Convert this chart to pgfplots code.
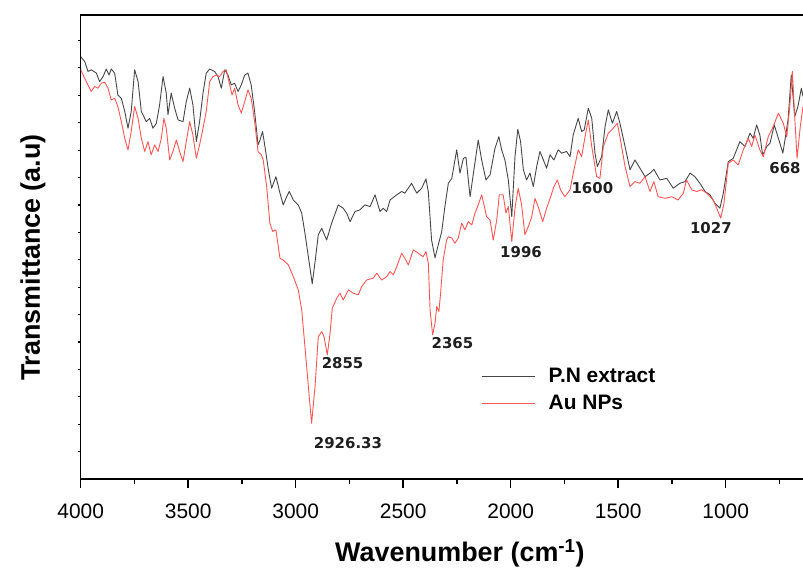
\documentclass[border=0pt]{standalone}
\usepackage{fontspec}
\setmainfont{Liberation Sans}
\newfontfamily\annfont{DejaVu Sans}
\usepackage{pgfplots}
\pgfplotsset{compat=1.18}
\definecolor{pngray}{RGB}{70,70,70}
\definecolor{aured}{RGB}{255,85,85}
\begin{document}
\begin{tikzpicture}
\useasboundingbox (0,0) rectangle (803bp,570bp);
\clip (0,0) rectangle (803bp,570bp);
\begin{axis}[
  at={(80.7bp,91bp)}, anchor=south west,
  scale only axis, width=774bp, height=464bp,
  xmin=400, xmax=4000, x dir=reverse,
  ymin=0, ymax=16.93,
  axis line style={line width=1.6bp, black},
  xtick={1000,1500,...,4000},
  minor xtick={750,1250,...,3750},
  ytick={1,...,16},
  yticklabels={},
  xtick pos=bottom, ytick pos=left,
  tick align=outside,
  major tick length=9bp, minor tick length=5bp,
  xtick style={line width=1.6bp, black},
  minor x tick style={line width=1.6bp, black},
  ytick style={/pgfplots/major tick length=3bp, line width=1.2bp, black},
  scaled x ticks=false,
  x tick label style={font=\fontsize{21}{21}\selectfont, yshift=-12bp, /pgf/number format/assume math mode=true, /pgf/number format/1000 sep={}},
  xlabel={Wavenumber (cm\textsuperscript{-1})},
  ylabel={Transmittance (a.u)},
  every axis x label/.style={at={(rel axis cs:0.49,0)}, yshift=-74bp, anchor=center, font=\bfseries\fontsize{27}{27}\selectfont},
  every axis y label/.style={at={(rel axis cs:0,0.477)}, xshift=-47.7bp, rotate=90, anchor=center, font=\bfseries\fontsize{27}{27}\selectfont},
  legend style={at={(rel axis cs:0.518,0.239)}, anchor=north west, draw=none, fill=none, inner sep=0pt, nodes={inner sep=0pt}, font=\bfseries\fontsize{21}{21}\selectfont, cells={anchor=west}, row sep=11bp, /tikz/every odd column/.append style={column sep=13bp}},
  legend image code/.code={\draw[#1] (0bp,0bp) -- (53bp,0bp);},
]
\addplot[pngray, line width=0.9bp, line join=round] coordinates {
(4000,15.41)(3981,15.23)(3966,14.87)(3951,14.93)(3927,14.81)(3912,14.50)(3896,14.68)(3881,14.96)(3868,14.74)(3858,14.96)(3842,14.81)(3827,14.01)(3811,13.89)(3795,13.41)(3780,12.80)(3765,13.41)(3749,14.93)(3733,14.50)(3718,13.41)(3695,13.04)(3679,13.16)(3664,12.80)(3648,12.98)(3633,13.65)(3617,14.68)(3602,14.08)(3594,13.29)(3579,14.08)(3563,13.53)(3547,13.10)(3524,13.04)(3509,13.77)(3493,14.26)(3478,13.65)(3462,12.31)(3447,13.04)(3431,14.08)(3416,14.81)(3400,14.96)(3377,14.87)(3361,14.68)(3346,14.26)(3330,14.93)(3315,14.74)(3300,14.38)(3284,14.44)(3268,14.14)(3253,14.38)(3237,14.74)(3222,14.81)(3207,14.38)(3191,13.41)(3175,12.19)(3166,12.37)(3154,12.68)(3143,12.13)(3127,11.28)(3112,10.61)(3092,11.03)(3073,10.43)(3058,10.00)(3042,10.30)(3030,10.49)(3011,10.18)(2988,10.00)(2972,9.70)(2957,8.97)(2941,8.11)(2923,7.12)(2907,8.11)(2895,8.91)(2879,9.15)(2856,8.72)(2833,9.33)(2802,10.00)(2779,9.88)(2763,9.70)(2747,9.39)(2724,9.76)(2701,9.82)(2678,10.00)(2654,9.94)(2631,10.37)(2608,9.76)(2593,9.88)(2577,9.76)(2561,10.18)(2530,10.37)(2507,10.49)(2492,10.43)(2461,10.79)(2437,10.43)(2414,10.61)(2394,10.95)(2383,10.47)(2368,8.72)(2352,8.07)(2337,8.54)(2321,9.02)(2306,9.94)(2290,10.79)(2274,10.97)(2251,12.01)(2236,11.16)(2220,11.70)(2208,11.74)(2189,10.30)(2171,11.28)(2151,12.37)(2135,11.64)(2115,10.91)(2096,11.10)(2073,12.07)(2055,12.49)(2042,12.01)(2027,11.64)(2011,10.91)(1995,9.57)(1980,11.76)(1967,12.76)(1954,12.31)(1941,11.28)(1926,10.91)(1910,11.16)(1895,10.67)(1879,11.40)(1864,11.95)(1848,11.64)(1833,11.34)(1817,11.83)(1799,11.64)(1779,12.01)(1763,11.89)(1740,11.95)(1724,11.76)(1709,12.56)(1686,13.16)(1670,12.68)(1658,12.74)(1639,13.53)(1623,13.16)(1608,11.89)(1597,11.40)(1577,11.76)(1561,12.86)(1546,13.47)(1527,12.98)(1507,13.41)(1492,12.98)(1468,12.13)(1445,11.28)(1422,11.64)(1399,11.34)(1375,11.03)(1352,11.16)(1334,11.30)(1306,10.91)(1274,10.97)(1244,10.61)(1213,10.79)(1189,10.85)(1166,11.16)(1143,11.03)(1120,10.79)(1096,10.49)(1073,10.37)(1050,10.06)(1027,9.88)(1011,10.43)(988,11.58)(965,11.70)(934,12.31)(910,12.13)(887,12.62)(872,12.43)(856,12.92)(841,12.55)(828,11.82)(809,12.13)(794,12.25)(774,12.92)(755,12.43)(734,11.89)(710,13.10)(695,14.74)(679,13.22)(664,13.59)(648,14.26)(640,13.95)
};
\addlegendentry{P.N extract}
\addplot[aured, line width=0.9bp, line join=round] coordinates {
(4000,14.93)(3974,14.50)(3951,14.14)(3935,14.32)(3920,14.26)(3904,14.44)(3888,14.48)(3873,14.26)(3858,13.83)(3842,13.89)(3827,13.59)(3811,13.04)(3795,12.43)(3780,12.01)(3765,12.68)(3749,13.59)(3733,13.16)(3718,12.43)(3702,11.95)(3687,12.31)(3672,11.83)(3656,12.19)(3640,11.95)(3625,12.43)(3613,13.16)(3602,12.80)(3586,11.64)(3571,11.95)(3555,12.37)(3540,11.95)(3524,11.58)(3509,12.31)(3493,13.04)(3478,12.55)(3462,11.70)(3447,12.19)(3431,12.80)(3416,13.41)(3400,14.50)(3385,14.68)(3369,14.74)(3354,14.68)(3338,14.87)(3323,14.93)(3307,14.38)(3296,14.01)(3284,14.26)(3268,13.65)(3253,13.35)(3237,13.77)(3222,14.20)(3207,13.89)(3191,13.04)(3175,11.95)(3160,11.83)(3151,11.64)(3135,10.67)(3120,9.33)(3107,9.03)(3092,9.09)(3073,8.05)(3058,7.99)(3034,7.81)(3011,7.38)(2988,6.90)(2972,6.17)(2957,4.83)(2941,3.37)(2926,2.03)(2910,3.37)(2895,5.19)(2879,5.38)(2868,5.19)(2853,4.53)(2840,5.32)(2830,6.23)(2809,6.60)(2794,6.78)(2779,6.53)(2755,6.90)(2732,6.78)(2709,6.72)(2693,7.02)(2670,7.26)(2639,7.33)(2623,7.51)(2600,7.26)(2577,7.38)(2561,7.57)(2546,7.45)(2530,7.75)(2507,8.24)(2492,8.05)(2476,7.81)(2453,8.36)(2430,8.24)(2407,8.11)(2394,8.30)(2383,7.87)(2375,6.17)(2363,5.26)(2352,5.68)(2344,6.29)(2334,6.11)(2326,6.78)(2314,7.99)(2298,8.72)(2290,8.84)(2274,8.79)(2259,8.60)(2244,8.79)(2228,9.33)(2213,9.09)(2197,9.39)(2181,9.27)(2166,9.70)(2151,10.00)(2135,10.37)(2124,10.00)(2112,9.57)(2096,9.45)(2081,8.72)(2065,9.45)(2053,10.37)(2035,10.37)(2022,9.70)(2011,9.94)(1995,8.66)(1980,9.88)(1965,10.61)(1949,10.00)(1934,8.91)(1918,9.21)(1902,9.57)(1887,10.24)(1872,9.94)(1851,9.39)(1833,9.88)(1814,10.30)(1799,10.67)(1783,10.91)(1768,10.55)(1748,10.30)(1724,10.55)(1709,11.16)(1686,12.01)(1670,11.76)(1654,12.49)(1639,13.10)(1623,12.13)(1600,11.03)(1585,10.97)(1569,12.13)(1546,12.62)(1523,12.80)(1504,12.98)(1492,12.49)(1468,11.40)(1445,10.67)(1422,10.85)(1399,10.79)(1375,11.03)(1352,10.49)(1334,10.85)(1314,10.30)(1282,10.24)(1251,10.30)(1221,10.18)(1197,10.43)(1182,10.91)(1158,10.55)(1135,10.49)(1112,10.55)(1088,10.43)(1058,10.18)(1039,9.82)(1023,9.52)(1008,10.06)(988,11.52)(965,11.64)(942,11.46)(918,12.01)(895,12.43)(879,12.13)(864,12.55)(841,12.01)(825,11.76)(802,12.49)(779,12.86)(755,13.35)(732,12.98)(716,12.48)(702,13.59)(690,14.87)(679,13.22)(668,11.70)(653,12.86)(640.5,13.59)
};
\addlegendentry{Au NPs}
\begin{scope}[every node/.style={font=\annfont\bfseries\fontsize{15}{15}\selectfont, text=black!88, inner sep=0pt}]
\node at (axis cs:2757,1.31) {2926.33};
\node at (axis cs:2782,4.23) {2855};
\node at (axis cs:2271,4.96) {2365};
\node at (axis cs:1952,8.28) {1996};
\node at (axis cs:1620,10.61) {1600};
\node at (axis cs:1069,9.15) {1027};
\node at (axis cs:724,11.34) {668};
\end{scope}
\end{axis}
\end{tikzpicture}
\end{document}
